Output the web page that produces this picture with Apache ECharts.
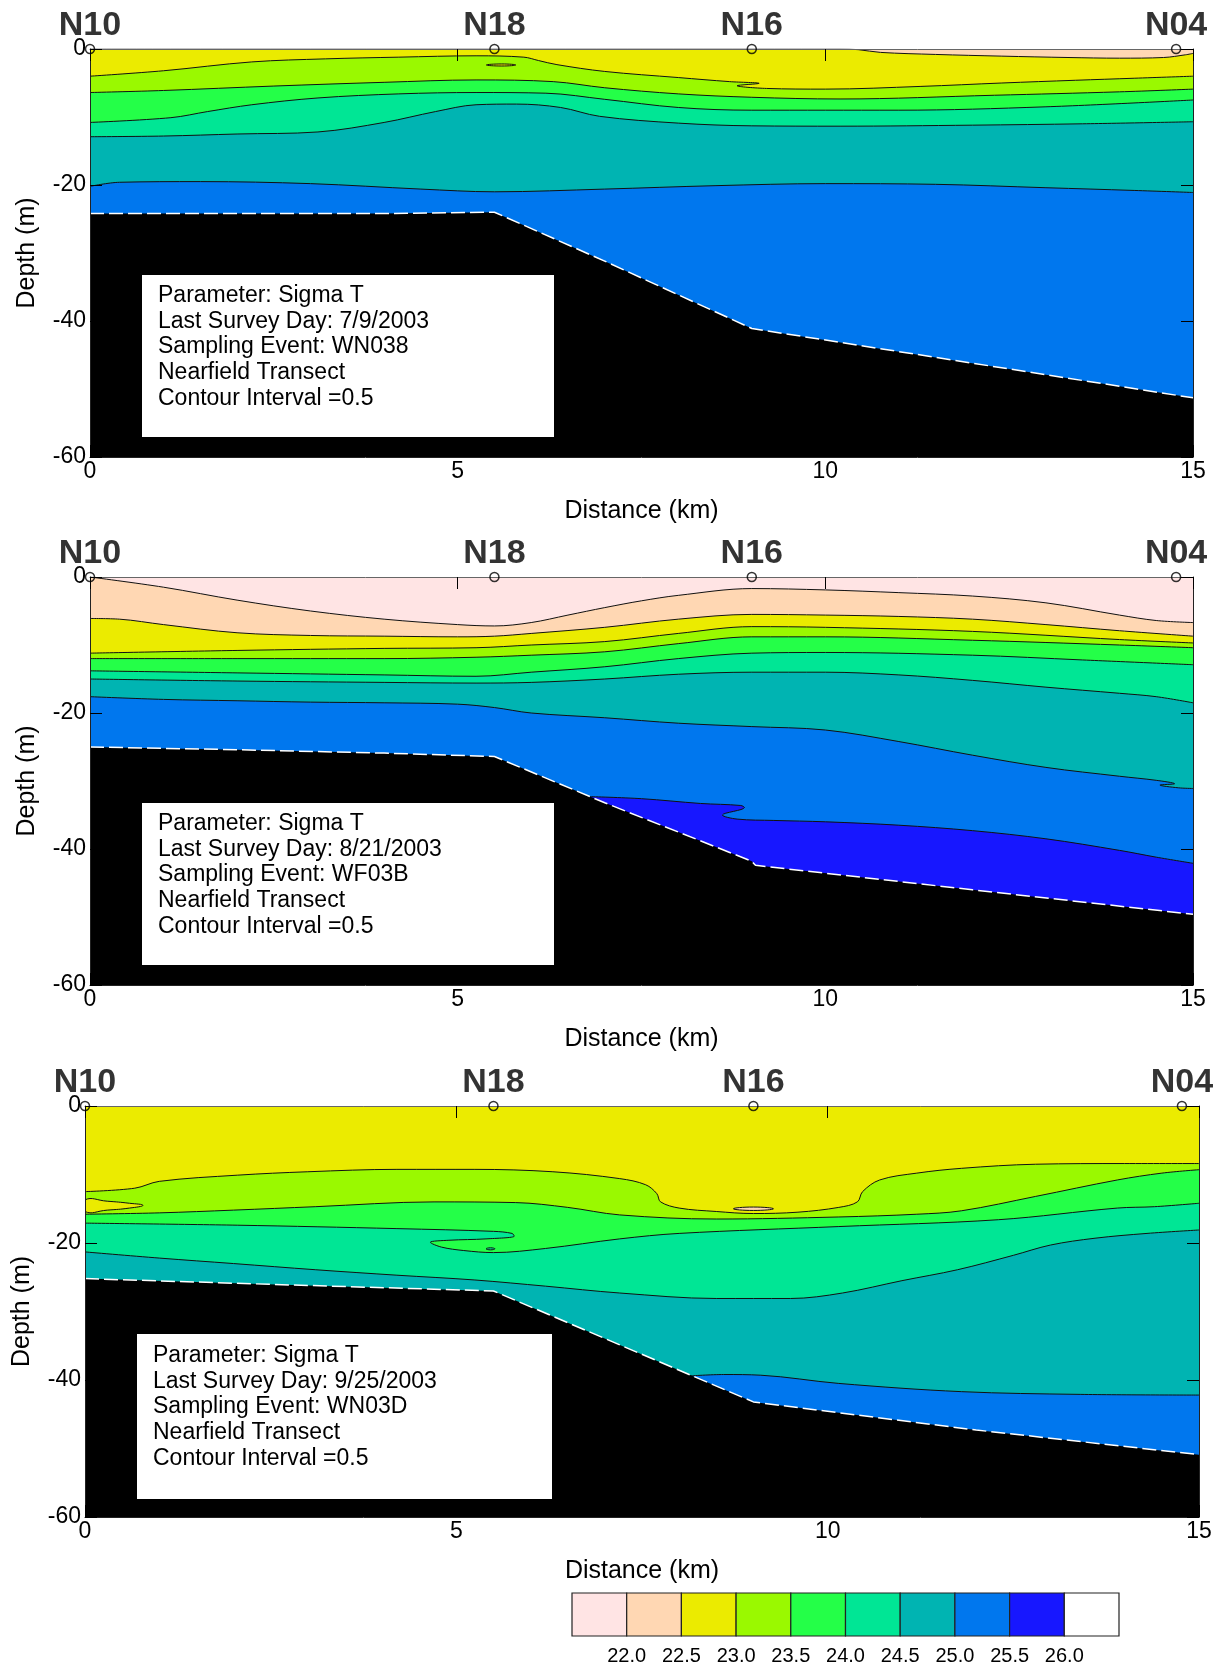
<!DOCTYPE html>
<html>
<head>
<meta charset="UTF-8">
<title>Sigma T - Nearfield Transect</title>
<script src="https://cdn.jsdelivr.net/npm/echarts@6/dist/echarts.min.js"></script>
<style>
  html, body { margin: 0; padding: 0; background: #fff; }
  #chart { width: 1224px; height: 1665px; }
</style>
</head>
<body>
<div id="chart"></div>
<script type="text/javascript">
// stations along the transect (km)
var stationKm = [0, 5.5, 9.0, 14.77];
var stationNames = ['N10', 'N18', 'N16', 'N04'];

// colour key: bands below 22.0, 22.0-22.5 ... above 26.0
var bandColors = ['#ffe4e4', '#ffd7b3', '#ebeb00', '#9af900', '#24ff48', '#00e695', '#00b4b2', '#0077ee', '#1717ff', '#ffffff'];
var legendLabels = ['22.0', '22.5', '23.0', '23.5', '24.0', '24.5', '25.0', '25.5', '26.0'];

// ---- panel 1 : 7/9/2003 ----  [distance km, depth m]
var p1_c225 = [[0,0],[10.2,0],[10.45,-0.1],[10.75,-0.5],[11.5,-0.8],[12.4,-1.05],[13.3,-1.25],[14.0,-1.35],[14.6,-1.25],[14.9,-0.85],[15,-0.65]];
var p1_c230 = [[0,-4.0],[1,-3.2],[2.2,-1.9],[3.2,-1.45],[4.2,-1.2],[5.25,-1.0],[5.9,-1.2],[6.1,-1.7],[6.35,-2.3],[7.0,-3.3],[8.0,-4.2],[8.7,-4.8],[9.1,-5.05],[8.8,-5.4],[9.2,-5.8],[10.0,-5.9],[11.3,-5.5],[12.4,-5.0],[13.4,-4.6],[14.2,-4.3],[15,-4.0]];
var p1_c235 = [[0,-6.4],[1,-6.1],[2.5,-5.45],[4,-4.9],[5.25,-4.55],[6.3,-4.8],[7,-5.7],[8,-6.6],[9,-7.1],[10.2,-7.35],[12.3,-6.8],[14,-6.3],[15,-5.9]];
var p1_c240 = [[0,-10.8],[1.1,-10.1],[1.6,-9.2],[2.2,-8.2],[3.1,-7.2],[4.2,-6.6],[5.25,-6.4],[6.2,-6.5],[7,-7.4],[8,-8.6],[9,-9.0],[11,-9.0],[13,-8.5],[15,-7.5]];
var p1_c245 = [[0,-12.9],[1,-12.8],[2,-12.5],[3.1,-12.2],[4,-10.8],[4.7,-9.2],[5.25,-8.2],[5.8,-8.1],[6.4,-8.6],[6.93,-9.9],[8,-10.9],[9,-11.3],[10.2,-11.35],[12,-11.2],[13.5,-11.0],[15,-10.7]];
var p1_c250 = [[0,-20.2],[0.4,-19.6],[1.5,-19.5],[3,-19.8],[4.5,-20.6],[5.5,-21.0],[7,-20.6],[8.5,-20.1],[10,-19.8],[11.5,-19.9],[13,-20.4],[14.2,-20.8],[15,-21.1]];
var p1_lens = [[5.39,-2.35],[5.6,-2.2],[5.79,-2.35],[5.6,-2.5]];
var p1_bottom = [[0,-24.2],[4,-24.2],[5.5,-24.0],[7,-31.2],[9,-41.1],[12,-46.2],[15,-51.3]];

// ---- panel 2 : 8/21/2003 ----
var p2_c220 = [[0,0],[1,-1.5],[2,-3.4],[3,-5.0],[4,-6.2],[5,-7.0],[5.5,-7.2],[6,-6.7],[6.5,-5.6],[7,-4.5],[7.5,-3.5],[8,-2.7],[9,-1.7],[10,-1.9],[11,-2.3],[12,-2.8],[13,-3.8],[14,-5.6],[14.5,-6.4],[15,-6.7]];
var p2_c225 = [[0,-6.1],[0.4,-6.2],[1,-7.0],[2,-8.2],[3,-8.6],[4,-8.7],[5,-8.8],[5.5,-8.7],[6,-8.3],[7,-7.4],[8,-6.2],[9,-5.5],[10,-5.6],[11,-5.8],[12,-6.2],[13,-7.0],[14,-7.9],[15,-8.7]];
var p2_c230 = [[0,-11.2],[2,-10.8],[4,-10.5],[5.25,-10.4],[6,-10.0],[7,-9.5],[8,-8.3],[9,-7.3],[10,-7.4],[12,-8.0],[14,-9.2],[15,-9.7]];
var p2_c235 = [[0,-12.0],[2,-12.0],[4,-12.0],[5.25,-11.8],[6,-11.5],[7,-11.0],[8,-9.8],[9,-8.8],[10,-8.8],[12,-9.3],[14,-10.0],[15,-10.4]];
var p2_c240 = [[0,-13.8],[2,-14.1],[4,-14.4],[5.25,-14.6],[6,-14.0],[7,-13.2],[8,-12.0],[9,-11.2],[10,-11.1],[12,-11.5],[13.5,-12.2],[15,-12.9]];
var p2_c245 = [[0,-15.0],[2,-15.3],[4,-15.5],[5.25,-15.6],[6,-15.5],[7,-15.0],[8,-14.3],[9,-14.0],[10,-14.0],[11,-14.4],[12,-15.2],[13,-16.2],[14,-17.1],[14.5,-17.6],[15,-18.5]];
var p2_c250 = [[0,-17.6],[1,-18.0],[2,-18.2],[3,-18.4],[4,-18.5],[5,-18.7],[5.5,-19.2],[6,-20.0],[7,-20.7],[8,-21.5],[9,-22.0],[10,-22.5],[11,-24.2],[12,-26.2],[13,-28.0],[14,-29.3],[14.5,-29.9],[14.75,-30.4],[14.55,-30.6],[14.8,-31.0],[15,-31.1]];
var p2_c255 = [[6.8,-32.3],[7.5,-32.6],[8.3,-33.3],[8.85,-33.6],[8.9,-33.9],[8.6,-35.0],[8.8,-35.6],[9.3,-35.8],[10,-36.0],[11,-36.5],[12,-37.3],[13,-38.5],[14,-40.2],[14.5,-41.2],[15,-42.1]];
var p2_bottom = [[0,-25.0],[2,-25.4],[4,-25.9],[5.5,-26.4],[7,-33.2],[9,-41.8],[9.05,-42.4],[12,-46.0],[15,-49.6]];

// ---- panel 3 : 9/25/2003 ----
var p3_c230 = [[0,-12.5],[0.67,-12.0],[1.0,-11.0],[2.05,-10.1],[3,-9.6],[4.2,-9.25],[5.25,-9.25],[6.3,-9.6],[7.2,-10.6],[7.55,-11.5],[7.7,-12.8],[7.75,-14.0],[8.0,-14.9],[8.5,-15.4],[9,-15.7],[9.6,-15.5],[10.15,-14.8],[10.4,-14.0],[10.47,-12.5],[10.7,-10.8],[11.2,-9.8],[11.8,-9.1],[12.8,-8.5],[14,-8.4],[15,-8.4]];
var p3_c235 = [[0,-15.8],[1,-15.6],[2,-15.2],[3.1,-14.7],[4.7,-14.0],[5.8,-14.1],[6.5,-14.8],[7.2,-15.9],[8.5,-16.5],[10.15,-16.2],[11.2,-15.8],[11.8,-15.3],[12.8,-13.2],[13.9,-10.8],[14.5,-9.8],[15,-9.3]];
var p3_c240 = [[0,-17.1],[2.05,-17.4],[4.2,-17.9],[5.5,-18.3],[5.75,-18.6],[5.78,-19.0],[5.4,-19.4],[4.9,-19.6],[4.65,-19.9],[4.8,-20.6],[5.1,-21.1],[5.5,-21.4],[6.2,-20.8],[7.2,-19.4],[8.0,-18.6],[10.15,-17.6],[12.3,-16.6],[13.9,-14.9],[14.4,-14.7],[15,-14.2]];
var p3_c245 = [[0,-21.3],[1,-22.2],[2,-23.0],[3.1,-23.9],[4.2,-24.7],[5.25,-25.4],[6.2,-26.3],[7.2,-27.3],[8.5,-28.1],[9.5,-28.1],[10.2,-27.3],[11,-25.5],[11.75,-23.9],[12.5,-21.8],[13.0,-20.3],[13.6,-19.3],[14.3,-18.6],[15,-18.1]];
var p3_c250 = [[8.15,-39.4],[8.6,-39.2],[9.1,-39.3],[10.15,-40.5],[11.8,-41.7],[13.4,-42.1],[15,-42.2]];
var p3_tongue = [[0,-13.7],[0.3,-13.9],[0.6,-14.2],[0.78,-14.5],[0.6,-14.9],[0.3,-15.2],[0,-15.4]];
var p3_lensN16 = [[8.73,-15.0],[9.0,-14.75],[9.27,-15.0],[9.0,-15.25]];
var p3_dot = [[5.4,-20.85],[5.46,-20.7],[5.52,-20.85],[5.46,-21.0]];
var p3_bottom = [[0,-25.2],[3,-26.2],[5.5,-27.0],[9,-43.2],[12,-47.3],[15,-50.9]];

var info1 = ['Parameter: Sigma T', 'Last Survey Day: 7/9/2003', 'Sampling Event: WN038', 'Nearfield Transect', 'Contour Interval =0.5'];
var info2 = ['Parameter: Sigma T', 'Last Survey Day: 8/21/2003', 'Sampling Event: WF03B', 'Nearfield Transect', 'Contour Interval =0.5'];
var info3 = ['Parameter: Sigma T', 'Last Survey Day: 9/25/2003', 'Sampling Event: WN03D', 'Nearfield Transect', 'Contour Interval =0.5'];

// band index below a contour level
function bandBelow(level) { return Math.round((level - 22.0) / 0.5) + 1; }

var panels = [
  {
    grid: {left: 90, top: 49, width: 1103, height: 408},
    surface: 1,
    contours: [[22.5, p1_c225], [23.0, p1_c230], [23.5, p1_c235], [24.0, p1_c240], [24.5, p1_c245], [25.0, p1_c250]],
    lenses: [[p1_lens, 2]],
    bottom: p1_bottom,
    info: info1, box: [142, 275, 412, 162], textX: 158, textY: 283
  },
  {
    grid: {left: 90, top: 577, width: 1103, height: 408},
    surface: 0,
    contours: [[22.0, p2_c220], [22.5, p2_c225], [23.0, p2_c230], [23.5, p2_c235], [24.0, p2_c240], [24.5, p2_c245], [25.0, p2_c250], [25.5, p2_c255]],
    lenses: [],
    bottom: p2_bottom,
    info: info2, box: [142, 803, 412, 162], textX: 158, textY: 811
  },
  {
    grid: {left: 85, top: 1106, width: 1114, height: 411},
    surface: 2,
    contours: [[23.0, p3_c230], [23.5, p3_c235], [24.0, p3_c240], [24.5, p3_c245], [25.0, p3_c250]],
    lenses: [[p3_tongue, 2], [p3_lensN16, 1], [p3_dot, 5]],
    bottom: p3_bottom,
    info: info3, box: [137, 1334, 415, 165], textX: 153, textY: 1343
  }
];

var font = "'Liberation Sans', Arial, sans-serif";
var grids = [], xAxes = [], yAxes = [], series = [], graphics = [];

panels.forEach(function (p, i) {
  grids.push({
    left: p.grid.left, top: p.grid.top, width: p.grid.width, height: p.grid.height,
    show: true, backgroundColor: bandColors[p.surface], borderWidth: 0
  });
  // bottom + top x axes
  xAxes.push({
    type: 'value', gridIndex: i, min: 0, max: 15, interval: 5, position: 'bottom', z: 50,
    name: 'Distance (km)', nameLocation: 'middle', nameGap: 42,
    nameTextStyle: {fontSize: 25, color: '#000', fontFamily: font},
    axisLine: {show: true, onZero: false, lineStyle: {color: '#222', width: 1}},
    axisTick: {show: true, inside: true, length: 12, lineStyle: {color: '#000'}},
    axisLabel: {fontSize: 23, color: '#000', margin: 3, fontFamily: font},
    splitLine: {show: false}
  });
  xAxes.push({
    type: 'value', gridIndex: i, min: 0, max: 15, interval: 5, position: 'top', z: 50,
    axisLine: {show: true, onZero: false, lineStyle: {color: '#666', width: 1}},
    axisTick: {show: true, inside: true, length: 12, lineStyle: {color: '#000'}},
    axisLabel: {show: false}, splitLine: {show: false}
  });
  yAxes.push({
    type: 'value', gridIndex: i, min: -60, max: 0, interval: 20, position: 'left', z: 50,
    name: 'Depth (m)', nameLocation: 'middle', nameGap: 50, nameRotate: 90,
    nameTextStyle: {fontSize: 25, color: '#000', fontFamily: font},
    axisLine: {show: true, onZero: false, lineStyle: {color: '#222', width: 1}},
    axisTick: {show: true, inside: true, length: 12, lineStyle: {color: '#000'}},
    axisLabel: {fontSize: 23, color: '#000', margin: 4, fontFamily: font},
    splitLine: {show: false}
  });
  yAxes.push({
    type: 'value', gridIndex: i, min: -60, max: 0, interval: 20, position: 'right', z: 50,
    axisLine: {show: true, onZero: false, lineStyle: {color: '#222', width: 1}},
    axisTick: {show: true, inside: true, length: 12, lineStyle: {color: '#000'}},
    axisLabel: {show: false}, splitLine: {show: false}
  });

  var xi = i * 2, yi = i * 2;
  // contour bands, top to bottom, each filled down to -60
  p.contours.forEach(function (c, k) {
    series.push({
      type: 'line', xAxisIndex: xi, yAxisIndex: yi, data: c[1],
      smooth: 0.35, symbol: 'none', silent: true, animation: false, z: 2 + k,
      lineStyle: {color: '#111', width: 1},
      areaStyle: {color: bandColors[bandBelow(c[0])], opacity: 1, origin: 'start'}
    });
  });
  // small closed contours
  p.lenses.forEach(function (l) {
    var pts = l[0], col = bandColors[l[1]];
    series.push({
      type: 'custom', xAxisIndex: xi, yAxisIndex: yi, data: [pts[0]],
      silent: true, animation: false, z: 20, clip: true,
      renderItem: function (params, api) {
        return {
          type: 'polygon',
          shape: {points: pts.map(function (q) { return api.coord(q); }), smooth: 0.5},
          style: {fill: col, stroke: '#111', lineWidth: 1}
        };
      }
    });
  });
  // sea floor
  series.push({
    type: 'line', xAxisIndex: xi, yAxisIndex: yi, data: p.bottom,
    symbol: 'none', silent: true, animation: false, z: 30,
    lineStyle: {color: '#fff', width: 1.5, type: [14, 5]},
    areaStyle: {color: '#000', opacity: 1, origin: 'start'}
  });
  // stations
  series.push({
    type: 'scatter', xAxisIndex: xi, yAxisIndex: yi, clip: false, silent: true, animation: false, z: 60,
    data: stationKm.map(function (k, j) { return {value: [k, 0], name: stationNames[j]}; }),
    symbol: 'circle', symbolSize: 9,
    itemStyle: {color: 'rgba(0,0,0,0)', borderColor: '#000', borderWidth: 1.5},
    label: {show: true, position: 'top', distance: 1, formatter: '{b}', fontSize: 34, fontWeight: 'bold', color: '#000', fontFamily: font}
  });

  // info box
  graphics.push({
    type: 'rect', z: 100, shape: {x: p.box[0], y: p.box[1], width: p.box[2], height: p.box[3]},
    style: {fill: '#fff'}
  });
  graphics.push({
    type: 'text', z: 101, x: p.textX, y: p.textY,
    style: {text: p.info.join('\n'), fontSize: 23, lineHeight: 25.6, fill: '#000', fontFamily: font, verticalAlign: 'top'}
  });
});

// colour key
var keyX = 572, keyY = 1593, keyW = 54.7, keyH = 43;
bandColors.forEach(function (c, k) {
  graphics.push({
    type: 'rect', z: 100, shape: {x: keyX + k * keyW, y: keyY, width: keyW, height: keyH},
    style: {fill: c, stroke: '#222', lineWidth: 1.2}
  });
});
legendLabels.forEach(function (t, k) {
  graphics.push({
    type: 'text', z: 100, x: keyX + (k + 1) * keyW, y: 1656,
    style: {text: t, fontSize: 20, fill: '#000', align: 'center', verticalAlign: 'middle',
            fontFamily: "'Liberation Sans Narrow', 'Arial Narrow', 'Liberation Sans', sans-serif"}
  });
});

var chart = echarts.init(document.getElementById('chart'));
var option = {
  backgroundColor: '#fff',
  animation: false,
  textStyle: {fontFamily: font},
  grid: grids,
  xAxis: xAxes,
  yAxis: yAxes,
  series: series,
  graphic: graphics
};
chart.setOption(option, true);
</script>
</body>
</html>
